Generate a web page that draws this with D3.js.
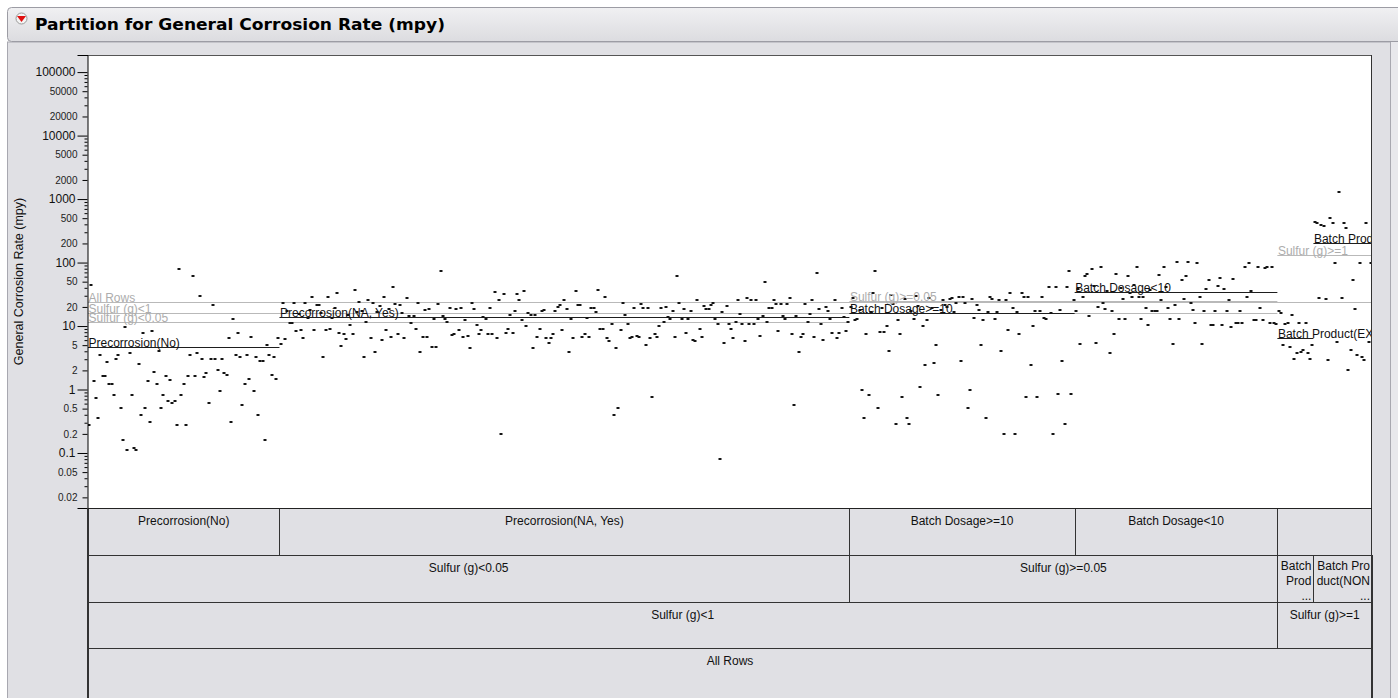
<!DOCTYPE html>
<html>
<head>
<meta charset="utf-8">
<script src="https://cdn.jsdelivr.net/npm/d3@7"></script>
<style>
  body { margin: 0; background: #ffffff; }
  svg { display: block; font-family: "Liberation Sans", Arial, sans-serif; }
</style>
</head>
<body>
<svg id="chart" width="1398" height="698"></svg>
<script>
// General corrosion rate (mpy) for each row, grouped by leaf of the partition tree, in row order
const precorrosionNo = [0.28, 44, 1.35, 0.73, 0.36, 3.5, 1.65, 1.65, 2.7, 1.22,
  1.22, 0.82, 3.0, 3.5, 0.52, 0.16, 9.5, 0.11, 3.7, 0.82,
  0.12, 0.11, 2.5, 0.40, 7.8, 0.52, 1.35, 0.31, 8.3, 1.9,
  1.22, 4.0, 0.52, 0.82, 1.65, 0.67, 1.41, 0.61, 0.67, 0.28,
  79, 0.82, 1.22, 0.28, 1.65, 3.5, 62, 1.65, 3.7, 30,
  3.0, 1.57, 1.8, 0.61, 3.0, 21.4, 3.0, 2.0, 0.95, 3.0,
  1.8, 1.7, 6.4, 0.31, 12.9, 3.5, 7.8, 3.3, 0.58, 1.22,
  3.5, 1.48, 6.7, 0.95, 3.2, 0.40, 2.8, 2.8, 0.16, 5.0,
  3.5, 1.7, 3.3, 1.48, 6.4];

const precorrosionNaYes = [
  5.3, 22.7, 6.2, 17, 11.2, 11.2, 23.3, 8.4, 15.5, 8.6,
  6.4, 23.3, 13.2, 18, 29, 8.6, 21.4, 21.4, 16, 3.2,
  8.6, 28.5, 8.9, 13.2, 19, 33, 7.8, 4.8, 7.4, 6.2,
  15, 10.3, 7.4, 37, 16.8, 23.5, 17.5, 3.3, 11.7, 26,
  6.4, 22.7, 3.85, 16.5, 21,
  6.0, 29, 8.6, 18.5, 6.8, 41.6, 22, 7.5, 21.4, 15.8,
  6.4, 27.3, 14.4, 11.2, 14.4, 9.1, 23.3, 3.9, 6.8, 17.8,
  6.8, 18.3, 4.7, 13.0, 4.7, 22.4, 74, 14.4, 12.7, 11.5,
  19.4, 7.2, 7.6, 18.5, 8.6, 19.4, 6.8, 12.4, 7.0, 4.5,
  22.7, 18.3, 10.2, 7.5, 8.6, 14, 13, 7.5, 19.4, 7.5,
  34, 6.4, 26, 0.2, 32, 7.8, 9.1, 14.9, 7.8, 17.4,
  32, 25.6, 12.4, 36, 10, 15.8, 14.7, 4.5, 14.9, 6.7,
  9.1, 17.4, 18, 6.5, 5.5, 6.4, 7.4, 17.4, 20, 21.6,
  8.6, 26, 18.3, 3.9, 12.8, 6.4, 36, 21.6, 21.6, 6.8,
  7.4, 13.4, 6.8, 19.4, 19.4, 16.8, 37, 9.1, 9.1, 29,
  6.4, 5.8, 10.6, 0.40, 4.5, 0.52, 8.6, 23.3, 14.9, 10.6,
  6.4, 6.8, 19.4, 7.0, 6.6, 22.4, 19.4, 5.0, 19.4, 6.4,
  0.77, 7.4, 6.8, 10.1, 19.4, 11.5, 20, 13.7, 12.8, 17.4,
  6.8, 62, 22.7, 12.8, 18.3, 7.8, 12.8, 17.4, 6.1, 5.9,
  26, 9.1, 6.7, 20.5, 18.3, 18.3, 21.4, 22.7, 12.8, 10.6,
  0.081, 16.8, 5.5, 20.5, 10.6, 9.1, 6.4, 11.7, 26, 15.3,
  10.6, 5.8, 27.6, 10.6, 26, 10.6, 26, 12.8, 7.0, 14.4,
  50, 11.7, 19.4, 19.4, 26, 22.4, 8.3, 22.4, 14.4, 13,
  22.4, 27.3, 7.5, 0.57, 14.5, 3.9, 6.8, 7.4, 22.4, 11.5,
  15.3, 26, 6.8, 68, 18.3, 10.6, 6.1, 20, 17.4, 12.8,
  7.8, 26, 6.4, 7.8, 19.4, 14, 8.3, 11.7];

const batchDosageHigh = [20, 28, 12.4, 12.8, 18, 0.98, 0.36, 7.5, 0.81, 16.5,
  33, 74, 0.52, 8.1, 19, 8.1, 10, 4.1, 31, 22,
  0.29, 12.4, 7.4, 0.77, 27, 0.36, 0.29, 17, 12.8, 30,
  21, 1.1, 10, 2.4, 12.4, 28, 19, 2.6, 4.95, 0.81,
  17.8, 25.6, 21.4, 20, 26.3, 27.3, 16.8, 22.7, 29, 2.8,
  29, 22.7, 0.52, 0.98, 26.3, 13.2, 21.4, 18, 4.95, 12.4,
  0.36, 16.8, 29, 26.3, 12.8, 16.8, 25.6, 4.1, 0.2, 25.6,
  8.6, 33.5, 19.5, 0.2, 16.8, 7.4, 33.5, 29, 0.77, 29,
  2.4, 10, 17.2, 0.77, 17.2, 29, 13.2, 12.8, 41.6, 15.8,
  0.2, 41.6, 0.85, 18, 2.8, 0.29, 41.6, 74, 0.85, 25.6];

const batchDosageLow = [17, 38, 5.2, 29, 62, 67, 14.4, 79, 42, 5.5,
  19.6, 84, 22.7, 18.3, 36, 3.7, 17.2, 7.5, 65, 12.8,
  40, 26.3, 12.8, 62, 33, 28.3, 44, 84, 28.3, 12.8,
  28.3, 19.4, 10.3, 37, 17.4, 17.4, 17.4, 64, 25.6, 84,
  41, 19.4, 12.8, 5.2, 21.4, 101, 12.8, 54, 26.3, 62,
  101, 22.7, 17.8, 11.2, 97, 29, 5.2, 17.4, 39, 53,
  10.3, 10.3, 17.4, 42.5, 58, 10.3, 39, 17.4, 25.6, 9.5,
  56, 11.2, 11.2, 17.4, 11.2, 84, 29, 97, 36, 12.4,
  12.4, 84, 19, 12.4, 81, 86, 11.2, 84, 11, 10.7];

const batchProductE = [17.4, 16.2, 5.0, 10.7, 11.2, 4.7, 14.9, 3.0, 3.7, 11,
  3.9, 4.2, 11.2, 3.8, 3.0, 5.0];

const batchProductNon = [440, 415, 28, 390, 370, 26.3, 2.9, 500, 420, 97,
  5.7, 1300, 28, 415, 345, 2.0, 4.2, 53, 18.3, 3.5,
  97, 3.3, 2.9, 420, 5.7, 97];

// Split labels and node means (mpy)
const leafLabels = ["Precorrosion(No)", "Precorrosion(NA, Yes)", "Batch Dosage>=10", "Batch Dosage<10",
  "Batch Product(EXT)", "Batch Product(NON)"];
const leafMeans = [4.7, 14.0, 16.2, 34.7, 6.5, 200];
const branchLabels = ["All Rows", "Sulfur (g)<1", "Sulfur (g)>=1", "Sulfur (g)<0.05", "Sulfur (g)>=0.05"];
const branchMeans = [24.1, 16.0, 131, 11.7, 25.2];

// Y axis ticks
const decadeTicks = [0.1, 1, 10, 100, 1000, 10000, 100000];
const minorLabelTicks = [0.02, 0.05, 0.2, 0.5, 2, 5, 20, 50, 200, 500, 2000, 5000, 20000, 50000];
const yTitle = "General Corrosion Rate (mpy)";
const chartTitle = "Partition for General Corrosion Rate (mpy)";

const leafValues = [precorrosionNo, precorrosionNaYes, batchDosageHigh, batchDosageLow, batchProductE, batchProductNon];

// ---- tree ----
const leaf = i => ({ name: leafLabels[i], mean: leafMeans[i], values: leafValues[i] });
const treeData = {
  name: branchLabels[0], mean: branchMeans[0], children: [
    { name: branchLabels[1], mean: branchMeans[1], children: [
      { name: branchLabels[3], mean: branchMeans[3], children: [leaf(0), leaf(1)] },
      { name: branchLabels[4], mean: branchMeans[4], children: [leaf(2), leaf(3)] }
    ]},
    { name: branchLabels[2], mean: branchMeans[2], children: [leaf(4), leaf(5)] }
  ]
};
const root = d3.hierarchy(treeData);

// assign row ranges to leaves, then propagate up
let rowCursor = 0;
const rows = [];
root.leaves().forEach(l => {
  l.r0 = rowCursor;
  l.data.values.forEach(v => rows.push({ idx: rowCursor++, value: v }));
  l.r1 = rowCursor;
});
root.eachAfter(n => {
  if (n.children) {
    n.r0 = d3.min(n.children, c => c.r0);
    n.r1 = d3.max(n.children, c => c.r1);
  }
});

// ---- layout ----
const W = 1398, H = 698;
const plot = { left: 88, right: 1372, top: 55, bottom: 508 };
const tableRows = [508, 555, 602, 648, 730];
const bg = "#e0e0e4";

const svg = d3.select("#chart");
const defs = svg.append("defs");

const x = d3.scaleLinear().domain([0, rowCursor]).range([plot.left, plot.right]);
const y = d3.scaleLog().domain([0.0136, 186000]).range([plot.bottom, plot.top]);

// page + panel background
svg.append("rect").attr("width", W).attr("height", H).attr("fill", "#ffffff");
svg.append("rect").attr("x", 7.5).attr("y", 42).attr("width", 1383).attr("height", H)
  .attr("fill", bg).attr("stroke", "#a8a8b0");
svg.append("rect").attr("x", 1391).attr("y", 42).attr("width", 7).attr("height", H).attr("fill", "#e8e8ec");

// title bar
const grad = defs.append("linearGradient").attr("id", "tb").attr("x1", 0).attr("x2", 0).attr("y1", 0).attr("y2", 1);
grad.append("stop").attr("offset", "0%").attr("stop-color", "#f0f0f2");
grad.append("stop").attr("offset", "100%").attr("stop-color", "#dcdce0");
svg.append("rect").attr("x", 7.5).attr("y", 7.5).attr("width", 1400).attr("height", 34).attr("rx", 4)
  .attr("fill", "url(#tb)").attr("stroke", "#9c9ca4");
svg.append("circle").attr("cx", 21.5).attr("cy", 18.5).attr("r", 5.5).attr("fill", "#f4f4f4").attr("stroke", "#9a9a9a");
svg.append("path").attr("d", "M17,16 L26,16 L21.5,22 Z").attr("fill", "#e01010");
svg.append("text").attr("x", 35).attr("y", 30).attr("font-size", 16).attr("font-weight", "bold")
  .attr("font-family", "DejaVu Sans, Verdana, sans-serif")
  .attr("textLength", 410).attr("lengthAdjust", "spacingAndGlyphs")
  .attr("fill", "#000").text(chartTitle);

// plot area
svg.append("rect").attr("x", plot.left).attr("y", plot.top)
  .attr("width", plot.right - plot.left).attr("height", plot.bottom - plot.top).attr("fill", "#ffffff");

defs.append("clipPath").attr("id", "plotClip").append("rect")
  .attr("x", plot.left).attr("y", plot.top).attr("width", plot.right - plot.left).attr("height", plot.bottom - plot.top);

const g = svg.append("g").attr("clip-path", "url(#plotClip)");

// node mean lines
const nodes = root.descendants();
g.selectAll("line.mean").data(nodes).join("line")
  .attr("class", "mean")
  .attr("x1", d => x(d.r0)).attr("x2", d => x(d.r1))
  .attr("y1", d => Math.round(y(d.data.mean)) + 0.5).attr("y2", d => Math.round(y(d.data.mean)) + 0.5)
  .attr("stroke", d => d.children ? "#b9b9b9" : "#1e1e1e").attr("stroke-width", 1);

// points
g.selectAll("rect.pt").data(rows).join("rect")
  .attr("class", "pt")
  .attr("x", d => Math.round(x(d.idx + 0.5)) - 1.5)
  .attr("y", d => Math.round(y(d.value)) - 1)
  .attr("width", 3).attr("height", 2)
  .attr("fill", "#141414");

// node labels
g.selectAll("text.node").data(nodes).join("text")
  .attr("class", "node")
  .attr("x", d => x(d.r0) + 0.5)
  .attr("y", d => Math.round(y(d.data.mean)) - 0.5)
  .attr("font-size", 12)
  .attr("fill", d => d.children ? "#adadad" : "#111111")
  .text(d => d.data.name);

// plot frame
svg.append("line").attr("x1", plot.left).attr("x2", plot.right).attr("y1", plot.top + 0.5).attr("y2", plot.top + 0.5).attr("stroke", "#555");
svg.append("line").attr("x1", plot.right - 0.5).attr("x2", plot.right - 0.5).attr("y1", plot.top).attr("y2", plot.bottom).attr("stroke", "#333");

// y axis
const yg = svg.append("g").attr("transform", `translate(${plot.left - 0.5},0)`);
const fmt = d3.format("~g");
yg.append("g").call(d3.axisLeft(y).tickValues(decadeTicks).tickSize(10).tickPadding(2).tickFormat(fmt))
  .call(a => a.selectAll("text").attr("font-size", 12).attr("fill", "#111").attr("font-family", "Liberation Sans, Arial, sans-serif"));
yg.append("g").call(d3.axisLeft(y).tickValues(minorLabelTicks).tickSize(5).tickPadding(5).tickFormat(fmt))
  .call(a => a.selectAll("text").attr("font-size", 10).attr("fill", "#222").attr("font-family", "Liberation Sans, Arial, sans-serif"))
  .call(a => a.select(".domain").remove());
const unlabeled = [];
[0.01, 0.1, 1, 10, 100, 1000, 10000, 100000].forEach(dec => [3, 4, 6, 7, 8, 9].forEach(m => {
  const v = dec * m;
  if (v > y.domain()[0] && v < y.domain()[1]) unlabeled.push(v);
}));
yg.append("g").call(d3.axisLeft(y).tickValues(unlabeled).tickSize(3).tickFormat(""))
  .call(a => a.select(".domain").remove());
yg.selectAll(".domain").attr("stroke", "#000");
yg.selectAll(".tick line").attr("stroke", "#000");

svg.append("text").attr("transform", `translate(23,${(plot.top + plot.bottom) / 2}) rotate(-90)`)
  .attr("text-anchor", "middle").attr("font-size", 12.5).attr("fill", "#111").text(yTitle);

// ---- tree table below the plot ----
const tg = svg.append("g");
const cells = nodes.map(n => ({
  node: n,
  x0: x(n.r0), x1: x(n.r1),
  y0: tableRows[3 - n.depth], y1: tableRows[4 - n.depth]
}));
tg.selectAll("rect.cell").data(cells).join("rect")
  .attr("class", "cell")
  .attr("x", d => Math.round(d.x0) + 0.5).attr("y", d => d.y0 + 0.5)
  .attr("width", d => Math.round(d.x1) - Math.round(d.x0)).attr("height", d => d.y1 - d.y0)
  .attr("fill", "none").attr("stroke", "#333");
// outer vertical edges of the table
[plot.left, plot.right].forEach(px => {
  tg.append("line").attr("x1", Math.round(px) - 0.5).attr("x2", Math.round(px) - 0.5)
    .attr("y1", tableRows[0]).attr("y2", H).attr("stroke", "#333");
});
svg.append("line").attr("x1", plot.left).attr("x2", plot.right).attr("y1", plot.bottom + 0.5).attr("y2", plot.bottom + 0.5).attr("stroke", "#222");

// cell labels, wrapped when the cell is narrow
cells.forEach(c => {
  const t = tg.append("text").attr("font-size", 12).attr("fill", "#111");
  const avail = c.x1 - c.x0 - 5;
  t.text(c.node.data.name);
  if (t.node().getComputedTextLength() <= avail) {
    t.attr("x", (c.x0 + c.x1) / 2).attr("y", c.y0 + 17).attr("text-anchor", "middle");
    return;
  }
  t.remove();
  const lines = [];
  let rest = c.node.data.name;
  const probe = tg.append("text").attr("font-size", 12);
  while (rest.length && lines.length < 2) {
    let k = rest.length;
    while (k > 1) {
      probe.text(rest.slice(0, k));
      if (probe.node().getComputedTextLength() <= avail) break;
      k--;
    }
    lines.push(rest.slice(0, k).trim());
    rest = rest.slice(k).trimStart();
  }
  probe.remove();
  if (rest.length) lines.push("...");
  lines.forEach((ln, i) => {
    tg.append("text").attr("font-size", 12).attr("fill", "#111")
      .attr("x", c.x1 - 2).attr("y", c.y0 + 15 + i * 15).attr("text-anchor", "end").text(ln);
  });
});
</script>
</body>
</html>
